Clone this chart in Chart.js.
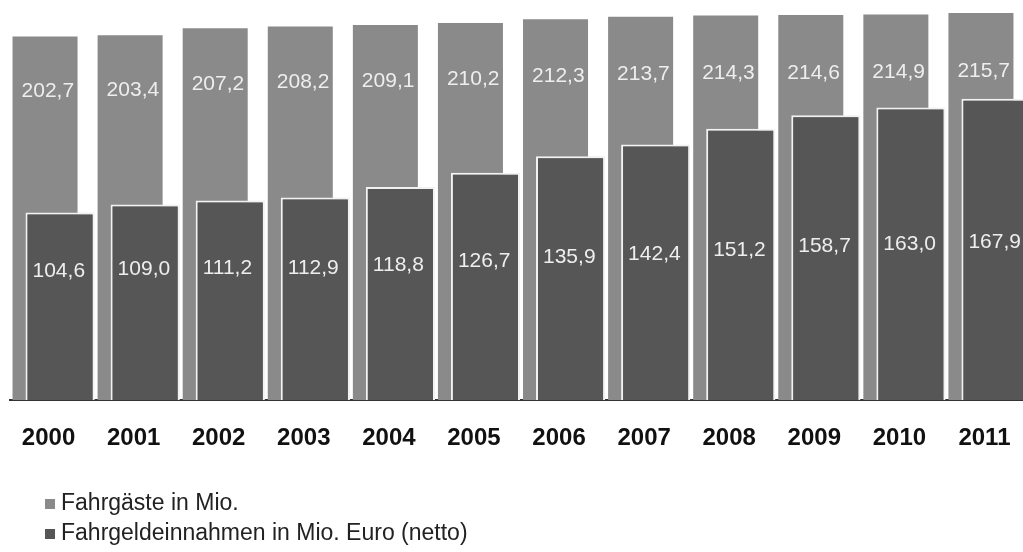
<!DOCTYPE html>
<html>
<head>
<meta charset="utf-8">
<script src="https://cdn.jsdelivr.net/npm/chart.js@4"></script>
<style>
  html, body { margin: 0; padding: 0; background: #fff; overflow: hidden; }
  #wrap { width: 1032px; height: 552px; }
</style>
</head>
<body>
<div id="wrap"><canvas id="chart"></canvas></div>
<script>
const years = ['2000','2001','2002','2003','2004','2005','2006','2007','2008','2009','2010','2011'];
const fahrgaeste = [202.7, 203.4, 207.2, 208.2, 209.1, 210.2, 212.3, 213.7, 214.3, 214.6, 214.9, 215.7];
const einnahmen = [104.6, 109.0, 111.2, 112.9, 118.8, 126.7, 135.9, 142.4, 151.2, 158.7, 163.0, 167.9];

const fmt = v => v.toFixed(1).replace('.', ',');

// front bars must sit on top of the back ones, labels on top of all,
// and the legend is a plain two-line list under the axis
const overlay = {
  id: 'overlay',
  afterDatasetsDraw(chart) {
    const ctx = chart.ctx;
    chart.getDatasetMeta(1).controller.draw();
    const y = chart.scales.y;
    ctx.save();
    ctx.font = '21px "Liberation Sans", Arial, sans-serif';
    ctx.fillStyle = '#eeeeee';
    ctx.textBaseline = 'middle';
    ctx.textAlign = 'left';
    [0, 1].forEach(di => {
      const meta = chart.getDatasetMeta(di);
      const vals = chart.data.datasets[di].data;
      meta.data.forEach((bar, i) => {
        const left = bar.x - bar.width / 2;
        const base = bar.base;
        let ly;
        if (di === 0) ly = bar.y + (base - bar.y) * 0.15;
        else ly = bar.y + (y.getPixelForValue(60) - bar.y) * 0.74;
        ctx.save();
        ctx.beginPath();
        ctx.rect(left, bar.y, bar.width - 2, base - bar.y);
        ctx.clip();
        ctx.fillText(fmt(vals[i]), left + (di === 0 ? 9 : 7), ly);
        ctx.restore();
      });
    });
    ctx.restore();
  },
  afterDraw(chart) {
    const ctx = chart.ctx;
    const top = chart.scales.x.bottom + 22;
    ctx.save();
    ctx.font = '23px "Liberation Sans", Arial, sans-serif';
    ctx.textBaseline = 'middle';
    ctx.textAlign = 'left';
    chart.data.datasets.forEach((ds, i) => {
      const cy = top + i * 30;
      ctx.fillStyle = ds.backgroundColor;
      ctx.fillRect(45, cy - 5, 10, 10);
      ctx.fillStyle = '#222';
      ctx.fillText(ds.label, 61, cy);
    });
    ctx.restore();
  }
};

new Chart(document.getElementById('chart'), {
  type: 'bar',
  data: {
    labels: years,
    datasets: [
      {
        label: 'Fahrgäste in Mio.',
        data: fahrgaeste,
        backgroundColor: '#8a8a8a',
        borderWidth: 0,
        categoryPercentage: 0.353,
        barPercentage: 4.33
      },
      {
        label: 'Fahrgeldeinnahmen in Mio. Euro (netto)',
        data: einnahmen,
        backgroundColor: '#565656',
        borderColor: '#f2f2f2',
        borderWidth: 2,
        borderSkipped: 'bottom',
        categoryPercentage: 0.353,
        barPercentage: 4.6
      }
    ]
  },
  options: {
    responsive: true,
    maintainAspectRatio: false,
    animation: false,
    layout: { padding: { left: 10, right: 1, top: 0, bottom: 70 } },
    scales: {
      x: {
        grid: { display: false, drawTicks: false },
        border: { display: true, color: '#333', width: 2 },
        ticks: {
          color: '#111',
          font: { family: '"Liberation Sans", Arial', size: 24, weight: 'bold', lineHeight: 2 },
          padding: 14,
          labelOffset: -4,
          maxRotation: 0
        },
        afterFit(scale) { scale.height = 82; }
      },
      y: {
        display: false,
        min: 0,
        max: 223
      }
    },
    plugins: {
      legend: { display: false },
      tooltip: { enabled: false }
    }
  },
  plugins: [overlay]
});
</script>
</body>
</html>
